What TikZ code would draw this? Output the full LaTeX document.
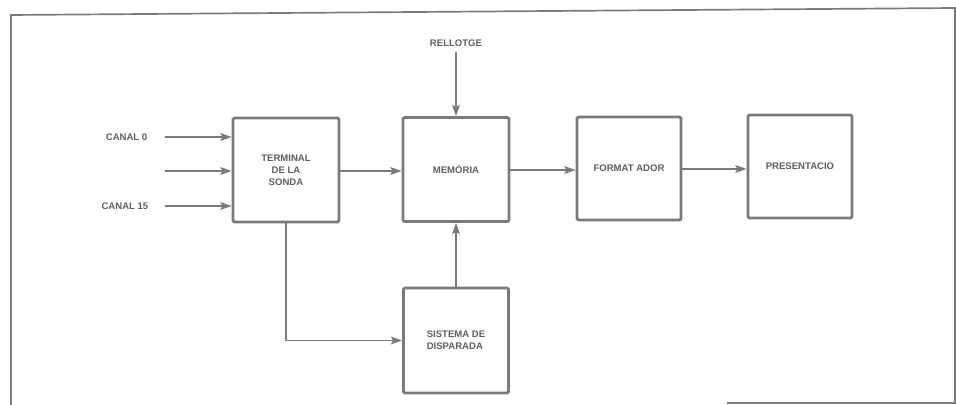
\documentclass[tikz,border=0pt]{standalone}
\usepackage{fontspec}
\setmainfont{Liberation Sans}
\usepackage{xcolor}
\usetikzlibrary{arrows.meta,positioning}
\definecolor{inkgray}{HTML}{7A7A7A}
\definecolor{txtgray}{HTML}{5E5E5E}

\begin{document}
\begin{tikzpicture}[
  x=0.025cm, y=-0.025cm,
  blk/.style={rectangle, draw=inkgray, line width=1.9pt, rounded corners=1pt,
              align=center, font=\fontsize{6.8}{8.5}\selectfont\bfseries,
              text=txtgray, minimum width=2.65cm, minimum height=2.6cm,
              inner sep=2pt},
  lbl/.style={font=\fontsize{6.8}{8.5}\selectfont\bfseries, text=txtgray,
              inner sep=1pt},
  arr/.style={draw=inkgray, line width=1.3pt,
              -{Stealth[length=8pt,width=5.5pt,inset=1.5pt]}}
]
  \useasboundingbox (0,0) rectangle (956,405);
  % frame of the scan
  \draw[inkgray, line width=1.2pt] (11,405) -- (11,15) -- (955,8) -- (955,403) -- (727,403);

  \node[blk] (term) at (286,170) {TERMINAL\\ DE LA\\ SONDA};
  \node[blk] (mem) at (456,169.5) {MEMÒRIA};
  \node[blk, minimum width=2.6cm, minimum height=2.575cm] (fmt) at (629,168.5) {FORMAT ADOR};
  \node[blk, minimum width=2.6cm, minimum height=2.575cm] (pres) at (800,166.5) {PRESENTACIO};
  \node[blk, minimum width=2.625cm, minimum height=2.625cm, align=left] (trig) at (456,340.5) {SISTEMA DE\\ DISPARADA};

  \node[lbl, anchor=east] (ch0) at (149,137) {CANAL 0};
  \node[lbl, anchor=east] (ch15) at (150,206) {CANAL 15};
  \node[lbl] (clk) at (456,43) {RELLOTGE};
  \coordinate (chmid) at (165,171);

  \draw[arr] (ch0.east) ++(16,0) coordinate (c0) -- (c0 -| term.west);
  \draw[arr] (chmid) -- (chmid -| term.west);
  \draw[arr] (ch15.east) ++(15,0) coordinate (c15) -- (c15 -| term.west);
  \draw[arr] (clk.south) ++(0,4) -- (mem.north);
  \draw[arr] (term.east |- 0,171) -- (mem.west |- 0,171);
  \draw[arr] (mem.east |- 0,170) -- (fmt.west |- 0,170);
  \draw[arr] (fmt.east |- 0,169) -- (pres.west |- 0,169);
  \draw[arr] (trig.north) -- (trig.north |- mem.south);
  \draw[arr] (term.south) |- (trig.west);
\end{tikzpicture}
\end{document}
